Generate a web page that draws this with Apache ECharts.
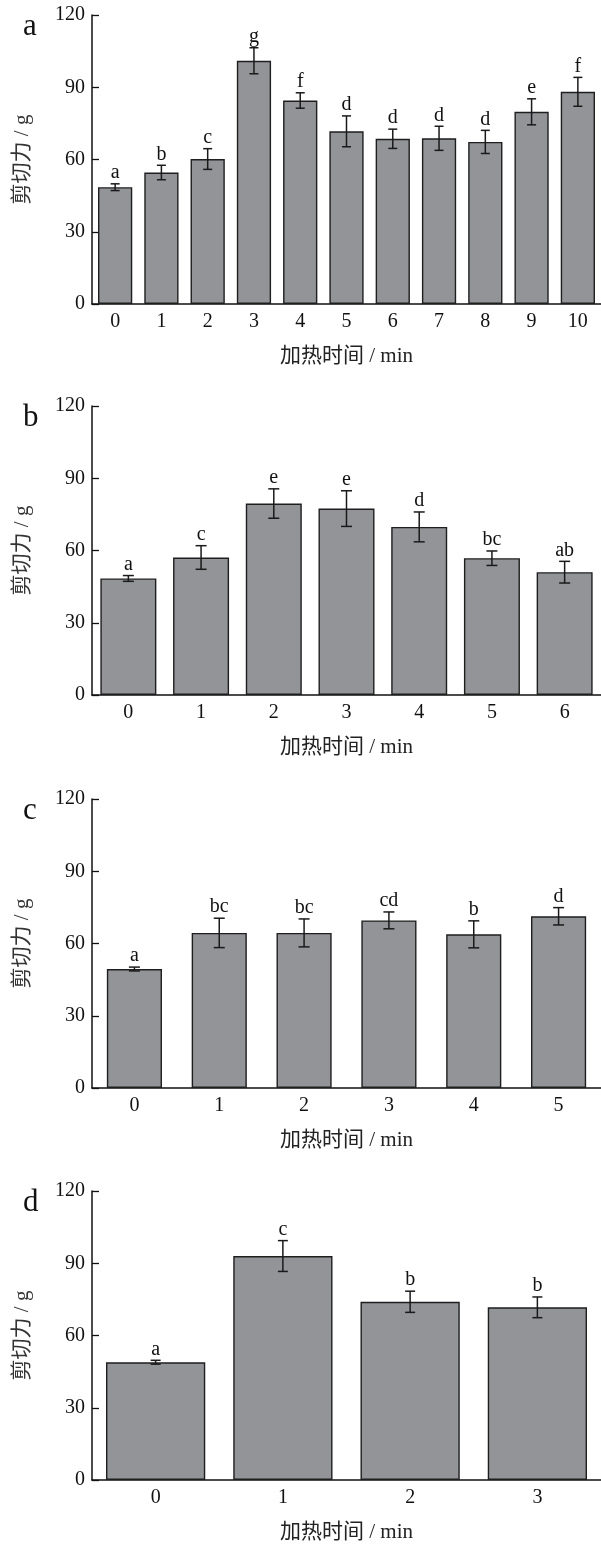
<!DOCTYPE html>
<html>
<head>
<meta charset="utf-8">
<script src="https://cdn.jsdelivr.net/npm/echarts@6/dist/echarts.min.js"></script>
<style>
  html, body { margin: 0; padding: 0; background: #ffffff; }
  #chart { width: 601px; height: 1544px; }
</style>
</head>
<body>
<div id="chart"></div>
<script>
// Shear force (g) versus heating time (min), four treatments a–d: mean, SD, significance letters
const timesA = ['0', '1', '2', '3', '4', '5', '6', '7', '8', '9', '10'];
const meanA = [48.5, 54.6, 60.2, 101.0, 84.5, 71.7, 68.6, 68.8, 67.3, 79.8, 88.1];
const sdA = [1.4, 3.0, 4.3, 5.4, 3.2, 6.4, 4.0, 5.0, 4.8, 5.4, 6.0];
const lettersA = ['a', 'b', 'c', 'g', 'f', 'd', 'd', 'd', 'd', 'e', 'f'];

const timesB = ['0', '1', '2', '3', '4', '5', '6'];
const meanB = [48.4, 57.1, 79.5, 77.4, 69.8, 56.8, 51.0];
const sdB = [1.2, 4.9, 6.1, 7.4, 6.2, 3.0, 4.5];
const lettersB = ['a', 'c', 'e', 'e', 'd', 'bc', 'ab'];

const timesC = ['0', '1', '2', '3', '4', '5'];
const meanC = [49.4, 64.4, 64.4, 69.6, 63.8, 71.3];
const sdC = [0.8, 6.1, 5.8, 3.5, 5.6, 3.6];
const lettersC = ['a', 'bc', 'bc', 'cd', 'b', 'd'];

const timesD = ['0', '1', '2', '3'];
const meanD = [48.9, 93.0, 74.0, 71.7];
const sdD = [0.8, 6.4, 4.4, 4.3];
const lettersD = ['a', 'c', 'b', 'b'];

const yTicks = [0, 30, 60, 90, 120];
const panelNames = ['a', 'b', 'c', 'd'];
const yName = '剪切力 / g';
const xName = '加热时间 / min';

const panels = [
  { times: timesA, mean: meanA, sd: sdA, letters: lettersA },
  { times: timesB, mean: meanB, sd: sdB, letters: lettersB },
  { times: timesC, mean: meanC, sd: sdC, letters: lettersC },
  { times: timesD, mean: meanD, sd: sdD, letters: lettersD }
];

// layout of the four stacked plots
const gridTops = [15, 406, 799, 1191];
const gridHeight = 289;
const gridLeft = 92;
const gridWidth = 512;
const barWidths = ['74%', '77%', '65%', '78%'];
const capWidths = [9, 11, 11, 10];

const serif = '"Liberation Serif", "Times New Roman", "Noto Sans CJK SC", serif';
const cjk = '"Liberation Serif", "Noto Sans CJK SC", serif';
const ink = '#111111';
const barFill = '#939498';

const grids = [], xAxes = [], yAxes = [], series = [], graphics = [];

panels.forEach((p, i) => {
  grids.push({ left: gridLeft, top: gridTops[i], width: gridWidth, height: gridHeight });

  xAxes.push({
    type: 'category', gridIndex: i, data: p.times,
    name: xName, nameLocation: 'middle', nameGap: 42,
    nameTextStyle: { fontFamily: cjk, fontSize: 21, color: '#222' },
    axisLine: { lineStyle: { color: ink, width: 1.5 } },
    axisTick: { show: true, inside: true, length: 7, alignWithLabel: true, lineStyle: { color: ink, width: 1.3 } },
    axisLabel: { fontFamily: serif, fontSize: 20, color: ink, margin: 8 },
    splitLine: { show: false }
  });

  yAxes.push({
    type: 'value', gridIndex: i, min: 0, max: yTicks[yTicks.length - 1], interval: yTicks[1] - yTicks[0],
    name: yName, nameLocation: 'middle', nameGap: 59, nameRotate: 90,
    nameTextStyle: { fontFamily: cjk, fontSize: 21, color: '#333' },
    axisLine: { show: true, lineStyle: { color: ink, width: 1.5 } },
    axisTick: { show: true, inside: true, length: 7, lineStyle: { color: ink, width: 1.3 } },
    axisLabel: { fontFamily: serif, fontSize: 20, color: ink, margin: 7 },
    splitLine: { show: false }
  });

  series.push({
    type: 'bar', xAxisIndex: i, yAxisIndex: i,
    data: p.mean, barWidth: barWidths[i],
    itemStyle: { color: barFill, borderColor: '#1e1e1e', borderWidth: 1.4 },
    z: 2
  });

  const cap = capWidths[i] / 2;
  series.push({
    type: 'custom', xAxisIndex: i, yAxisIndex: i,
    data: p.mean.map((m, k) => [k, m, p.sd[k]]),
    z: 5,
    renderItem: function (params, api) {
      const x = api.value(0), m = api.value(1), s = api.value(2);
      const hi = api.coord([x, m + s]);
      const lo = api.coord([x, m - s]);
      const st = { stroke: '#1a1a1a', lineWidth: 1.5 };
      return {
        type: 'group',
        children: [
          { type: 'line', shape: { x1: hi[0], y1: hi[1], x2: lo[0], y2: lo[1] }, style: st },
          { type: 'line', shape: { x1: hi[0] - cap, y1: hi[1], x2: hi[0] + cap, y2: hi[1] }, style: st },
          { type: 'line', shape: { x1: lo[0] - cap, y1: lo[1], x2: lo[0] + cap, y2: lo[1] }, style: st },
          {
            type: 'text', x: hi[0], y: hi[1] - 1,
            style: {
              text: p.letters[params.dataIndex], textAlign: 'center', textVerticalAlign: 'bottom',
              fontFamily: serif, fontSize: 20, fill: ink
            }
          }
        ]
      };
    }
  });

  graphics.push({
    type: 'text', left: 23, top: gridTops[i] - 4,
    style: { text: panelNames[i], fontFamily: serif, fontSize: 31, fill: ink }
  });
});

const chart = echarts.init(document.getElementById('chart'), null, { renderer: 'canvas' });
chart.setOption({
  animation: false,
  backgroundColor: '#ffffff',
  grid: grids,
  xAxis: xAxes,
  yAxis: yAxes,
  series: series,
  graphic: graphics
});
</script>
</body>
</html>
